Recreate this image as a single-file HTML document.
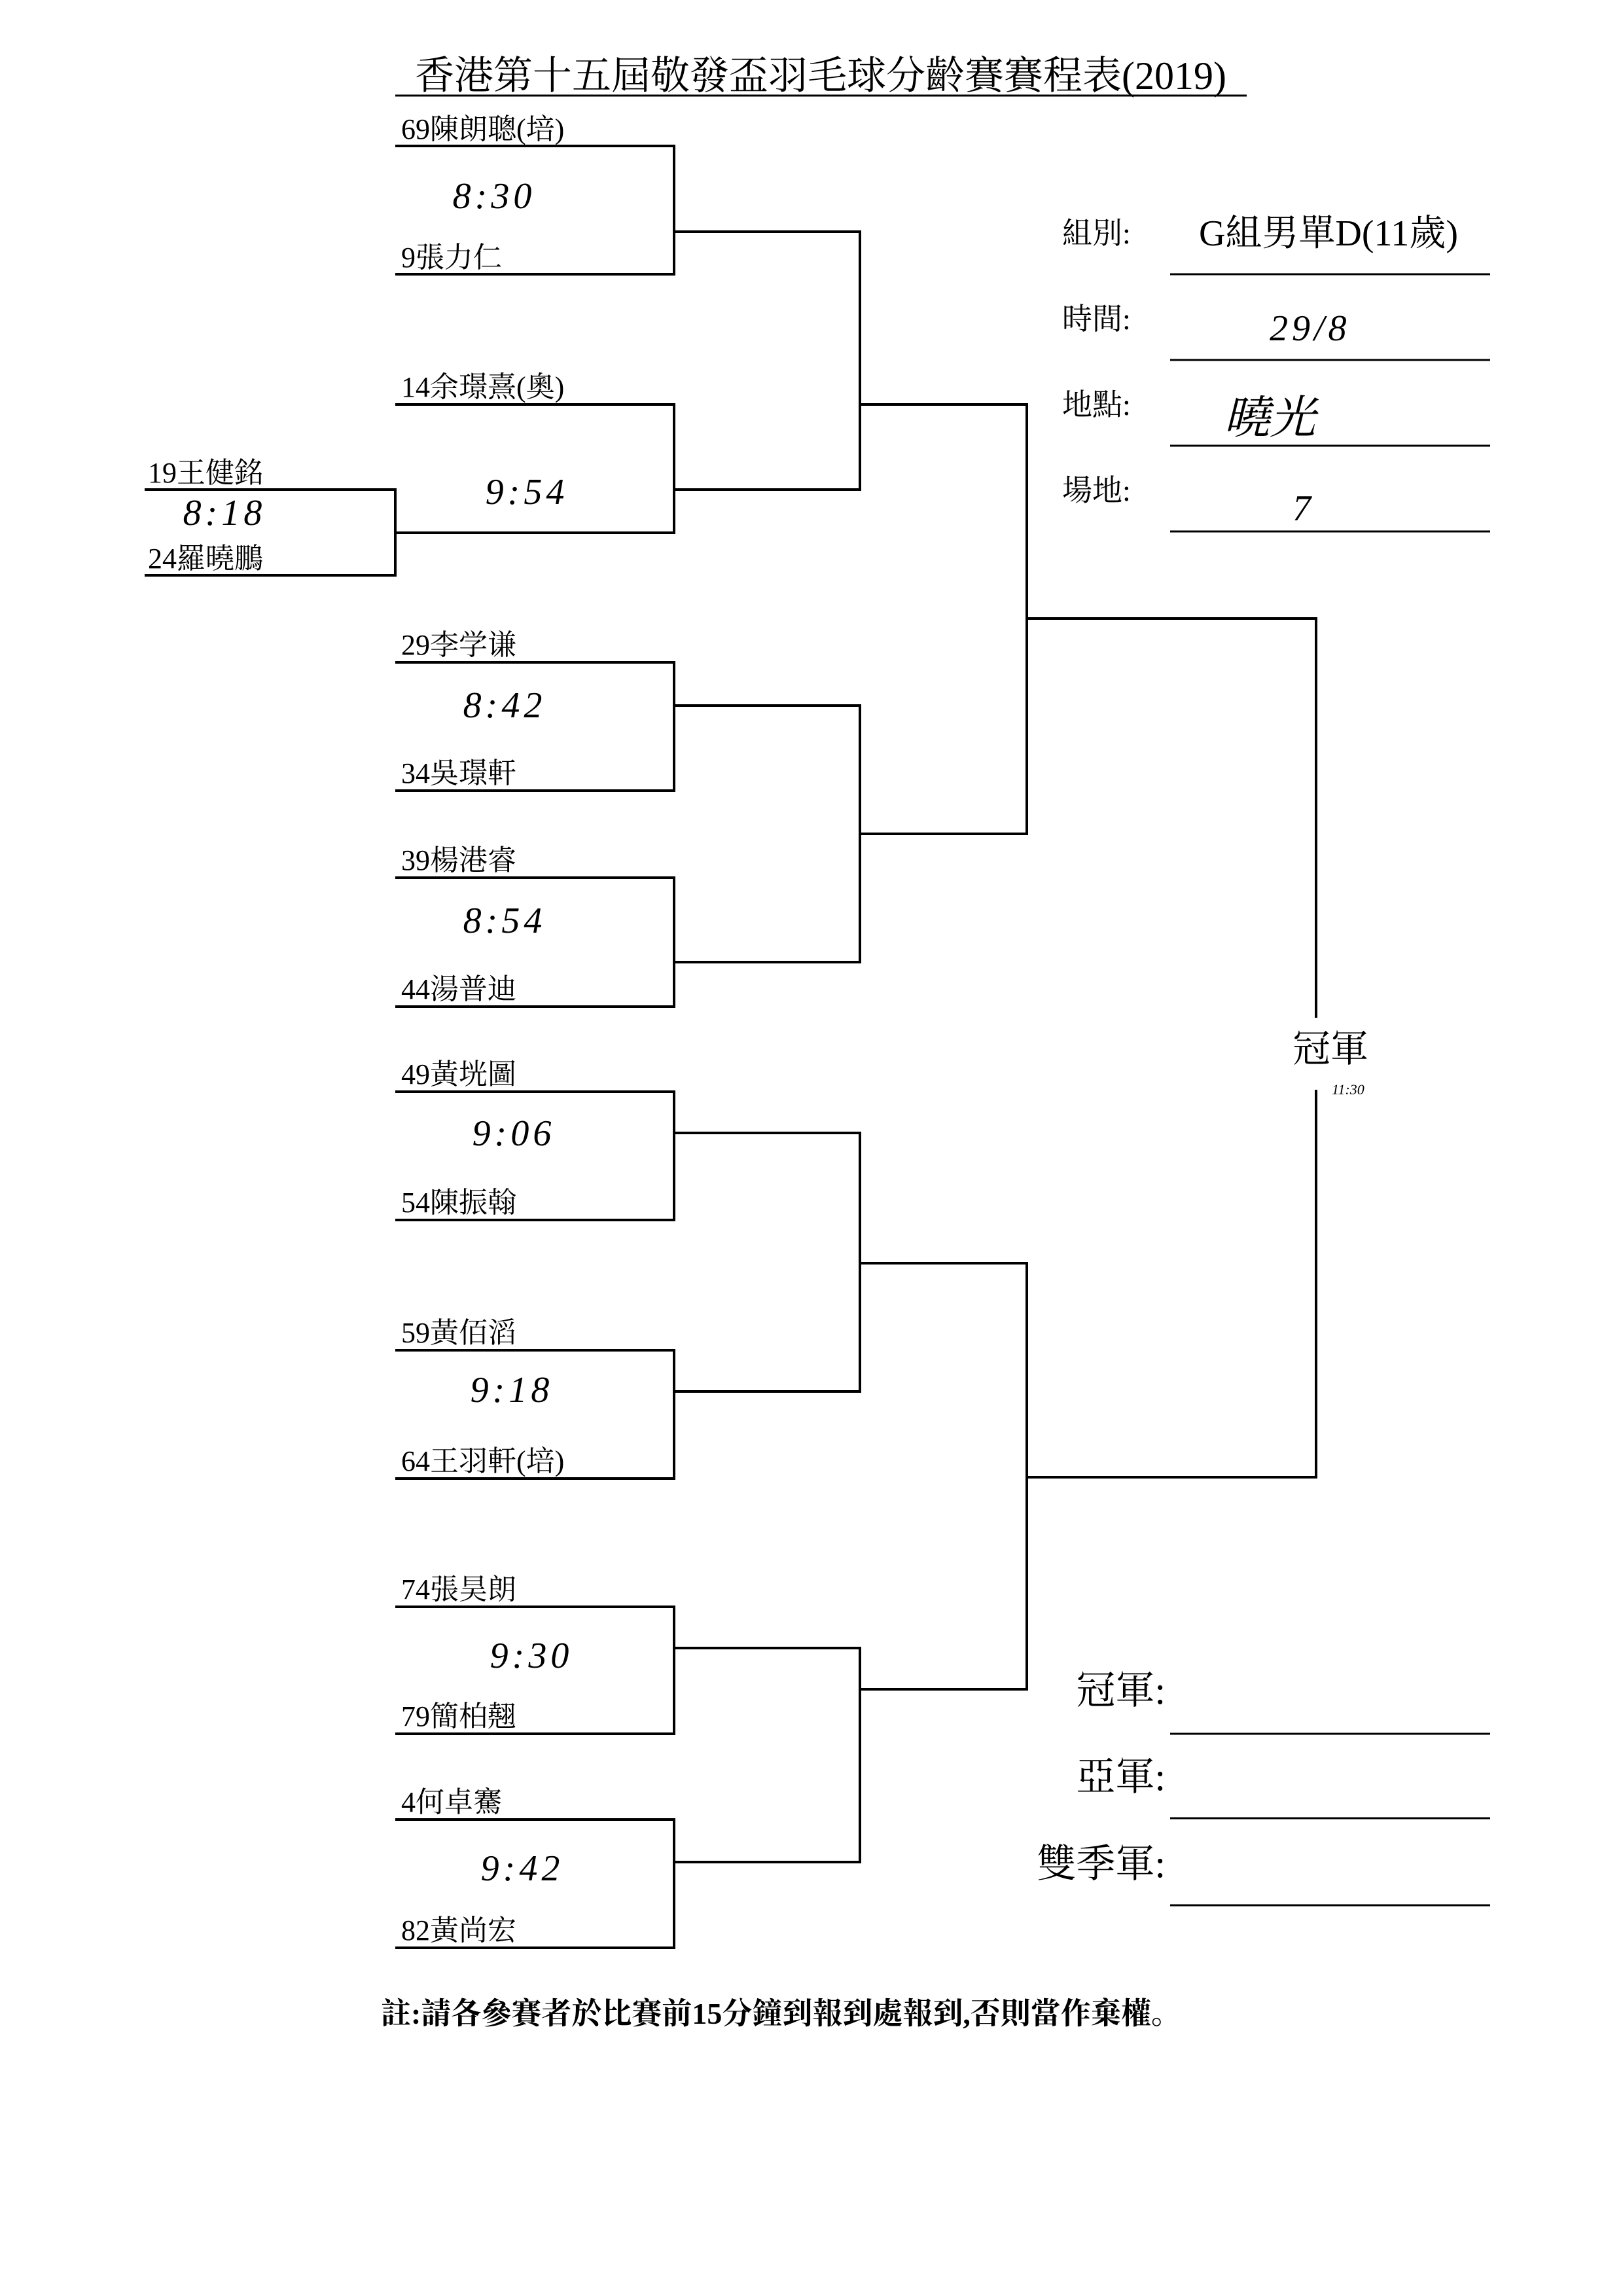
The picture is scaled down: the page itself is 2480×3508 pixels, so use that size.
<!DOCTYPE html>
<html><head><meta charset="utf-8"><style>
html,body{margin:0;padding:0;background:#fff}
svg{display:block}
text{font-family:"Liberation Serif","Noto Serif CJK SC","Noto Sans CJK TC",serif;fill:#000}
.n{font-size:44px}
.h{font-family:"Liberation Serif",serif;font-style:italic;font-size:56px;letter-spacing:6px}
.l{font-size:46px}
</style></head><body>
<svg width="2480" height="3508" viewBox="0 0 2480 3508" xmlns="http://www.w3.org/2000/svg">
<g stroke="#000" stroke-width="4" fill="none">
<!-- round 1 brackets -->
<path d="M604 223H1030V419H604"/>
<path d="M604 618H1030V814H604"/>
<path d="M604 1012H1030V1208H604"/>
<path d="M604 1341H1030V1538H604"/>
<path d="M604 1668H1030V1864H604"/>
<path d="M604 2063H1030V2259H604"/>
<path d="M604 2455H1030V2649H604"/>
<path d="M604 2780H1030V2976H604"/>
<!-- prelim -->
<path d="M221 748H604V879H221"/>
<!-- round 2 -->
<path d="M1030 354H1314V748H1030"/>
<path d="M1030 1078H1314V1470H1030"/>
<path d="M1030 1731H1314V2126H1030"/>
<path d="M1030 2518H1314V2845H1030"/>
<!-- round 3 -->
<path d="M1314 618H1569V1274H1314"/>
<path d="M1314 1930H1569V2581H1314"/>
<!-- final -->
<path d="M1569 945H2011V1555"/>
<path d="M2011 1665V2257H1569"/>
<!-- title underline -->
<path d="M604 146H1905" stroke-width="3"/>
<!-- info lines -->
<path d="M1788 419H2277M1788 550H2277M1788 681H2277M1788 812H2277" stroke-width="3"/>
<path d="M1788 2649H2277M1788 2778H2277M1788 2911H2277" stroke-width="3"/>
</g>
<text x="1254" y="136" font-size="60" text-anchor="middle">香港第十五屆敬發盃羽毛球分齡賽賽程表(2019)</text>
<g class="n">
<text x="613" y="212">69陳朗聰(培)</text>
<text x="613" y="408">9張力仁</text>
<text x="613" y="606">14余璟熹(奧)</text>
<text x="226" y="737">19王健銘</text>
<text x="226" y="868">24羅曉鵬</text>
<text x="613" y="1000">29李学谦</text>
<text x="613" y="1196">34吳璟軒</text>
<text x="613" y="1329">39楊港睿</text>
<text x="613" y="1526">44湯普迪</text>
<text x="613" y="1656">49黃垙圖</text>
<text x="613" y="1852">54陳振翰</text>
<text x="613" y="2051">59黃佰滔</text>
<text x="613" y="2247">64王羽軒(培)</text>
<text x="613" y="2443">74張昊朗</text>
<text x="613" y="2637">79簡柏翹</text>
<text x="613" y="2768">4何卓騫</text>
<text x="613" y="2964">82黃尚宏</text>
</g>
<g class="h" text-anchor="middle">
<text x="755" y="318">8:30</text>
<text x="805" y="770">9:54</text>
<text x="343" y="802">8:18</text>
<text x="771" y="1096">8:42</text>
<text x="771" y="1425">8:54</text>
<text x="785" y="1750">9:06</text>
<text x="782" y="2142">9:18</text>
<text x="812" y="2548">9:30</text>
<text x="798" y="2873">9:42</text>
</g>
<g class="l">
<text x="1623" y="372">組別:</text>
<text x="1623" y="503">時間:</text>
<text x="1623" y="634">地點:</text>
<text x="1623" y="765">場地:</text>
</g>
<text x="2030" y="375" font-size="56" text-anchor="middle">G組男單D(11歲)</text>
<text x="1940" y="520" class="h" font-size="56">29/8</text>
<text x="1870" y="662" font-size="70" font-style="italic">曉光</text>
<text x="1975" y="795" class="h" font-size="70">7</text>
<text x="2033" y="1622" font-size="58" text-anchor="middle">冠軍</text>
<text x="2035" y="1672" font-size="22" font-style="italic">11:30</text>
<g font-size="60" text-anchor="end">
<text x="1781" y="2603">冠軍:</text>
<text x="1781" y="2735">亞軍:</text>
<text x="1781" y="2868">雙季軍:</text>
</g>
<text x="582" y="3092" font-size="46" font-weight="bold">註:請各參賽者於比賽前15分鐘到報到處報到,否則當作棄權。</text>
</svg>
</body></html>
